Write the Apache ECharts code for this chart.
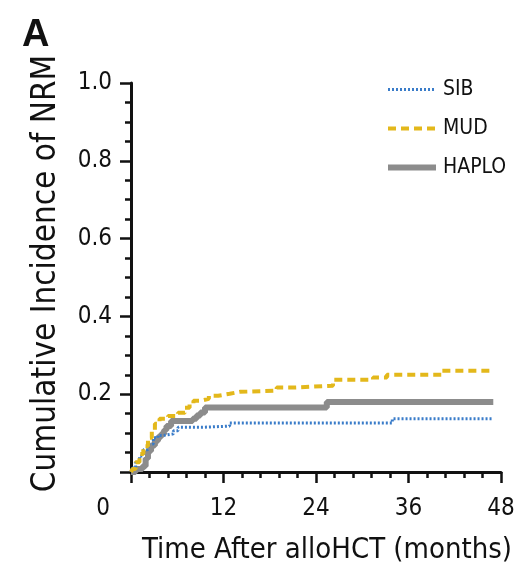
<!DOCTYPE html>
<html>
<head>
<meta charset="utf-8">
<script src="https://cdn.jsdelivr.net/npm/echarts@6/dist/echarts.min.js"></script>
<style>
  html, body { margin: 0; padding: 0; background: #fff; }
  #main { width: 520px; height: 574px; }
</style>
</head>
<body>
<div id="main"></div>
<script>
// step curves: months / cumulative incidence
var sibT   = [0, 0.2, 0.6, 1.1, 1.6, 2.2, 2.9, 3.5, 4.2, 5.5, 6.1, 9.3, 12.8, 33.9, 47];
var sibV   = [0, 0.01, 0.025, 0.041, 0.057, 0.072, 0.088, 0.094, 0.098, 0.106, 0.115, 0.118, 0.126, 0.137, 0.137];
var mudT   = [0, 0.2, 0.6, 1.1, 1.6, 2.2, 2.7, 3.1, 3.7, 4.8, 6.1, 7.0, 7.6, 8.1, 9.0, 10.1, 11.3, 12.8, 14.1, 18.9, 21, 26.2, 31.4, 33.2, 40.3, 47];
var mudV   = [0, 0.008, 0.025, 0.046, 0.066, 0.088, 0.108, 0.124, 0.137, 0.144, 0.152, 0.165, 0.175, 0.183, 0.188, 0.196, 0.201, 0.206, 0.209, 0.217, 0.222, 0.237, 0.243, 0.25, 0.26, 0.26];
var haploT = [0, 0.6, 1.5, 1.9, 2.2, 2.6, 3.1, 3.5, 3.9, 4.3, 4.6, 5.2, 8.0, 8.5, 9.0, 9.6, 25.4, 47];
var haploV = [0, 0.008, 0.015, 0.035, 0.054, 0.068, 0.08, 0.09, 0.098, 0.108, 0.118, 0.131, 0.137, 0.145, 0.153, 0.166, 0.18, 0.18];
var xTicks = [0, 12, 24, 36, 48];
var yTicks = [0.2, 0.4, 0.6, 0.8, 1.0];

function pairs(t, v) {
    return t.map(function (x, i) { return [x, v[i]]; });
}

var font = '"DejaVu Sans Condensed", "Liberation Sans", Arial, sans-serif';
var myChart = echarts.init(document.getElementById('main'));

var option = {
    animation: false,
    title: {
        text: 'A',
        left: 17,
        top: 12,
        textStyle: {fontFamily: 'Liberation Sans, Arial, sans-serif', fontSize: 38, fontWeight: 'bold', color: '#111'}
    },
    grid: {left: 131, right: 19, top: 83, bottom: 102, outerBoundsMode: 'none'},
    legend: {
        orient: 'vertical',
        left: 380,
        top: 74,
        itemWidth: 48,
        itemHeight: 12,
        itemGap: 18,
        itemStyle: {opacity: 0},
        lineStyle: {width: 'inherit', type: 'inherit'},
        textStyle: {fontFamily: font, fontSize: 21, color: '#111', padding: [0, 0, 0, 2]},
        data: ['SIB', 'MUD', 'HAPLO']
    },
    xAxis: {
        type: 'value',
        min: 0,
        max: 48,
        interval: 12,
        name: 'Time After alloHCT (months)',
        nameLocation: 'middle',
        nameGap: 64,
        nameTextStyle: {fontFamily: font, fontSize: 29, color: '#111', padding: [0, 0, 0, 22]},
        axisLine: {lineStyle: {color: '#111', width: 3}},
        axisTick: {length: 11, lineStyle: {width: 2.5, color: '#111'}},
        minorTick: {show: true, splitNumber: 5, length: 6, lineStyle: {width: 2.5, color: '#111'}},
        splitLine: {show: false},
        axisLabel: {
            margin: 25,
            fontFamily: font,
            fontSize: 24,
            color: '#111',
            formatter: function (v) {
                return v === 0 ? '{z|0}' : (xTicks.indexOf(v) >= 0 ? String(v) : '');
            },
            rich: {z: {fontFamily: font, fontSize: 24, color: '#111', padding: [0, 56, 0, 0]}}
        }
    },
    yAxis: {
        type: 'value',
        min: 0,
        max: 1,
        interval: 0.2,
        name: 'Cumulative Incidence of NRM',
        nameLocation: 'middle',
        nameGap: 68,
        nameTextStyle: {fontFamily: font, fontSize: 33, color: '#111', padding: [0, 0, 0, 8]},
        axisLine: {show: true, lineStyle: {color: '#111', width: 3}},
        axisTick: {show: true, length: 11, lineStyle: {width: 2.5, color: '#111'}},
        minorTick: {show: true, splitNumber: 4, length: 6, lineStyle: {width: 2.5, color: '#111'}},
        splitLine: {show: false},
        axisLabel: {
            margin: 19,
            fontFamily: font,
            fontSize: 24,
            color: '#111',
            formatter: function (v) {
                return yTicks.some(function (t) { return Math.abs(t - v) < 1e-9; }) ? v.toFixed(1) : '';
            }
        }
    },
    series: [
        {
            name: 'SIB',
            type: 'line',
            step: 'end',
            symbol: 'none',
            z: 3,
            data: pairs(sibT, sibV),
            lineStyle: {color: '#3a7cc9', width: 3, type: [2, 2]},
            itemStyle: {color: '#3a7cc9'}
        },
        {
            name: 'MUD',
            type: 'line',
            step: 'end',
            symbol: 'none',
            z: 4,
            data: pairs(mudT, mudV),
            lineStyle: {color: '#e3b81b', width: 4, type: [8, 5]},
            itemStyle: {color: '#e3b81b'}
        },
        {
            name: 'HAPLO',
            type: 'line',
            step: 'end',
            symbol: 'none',
            z: 2,
            data: pairs(haploT, haploV),
            lineStyle: {color: '#8c8c8c', width: 6},
            itemStyle: {color: '#8c8c8c'}
        }
    ]
};
myChart.setOption(option);
</script>
</body>
</html>
